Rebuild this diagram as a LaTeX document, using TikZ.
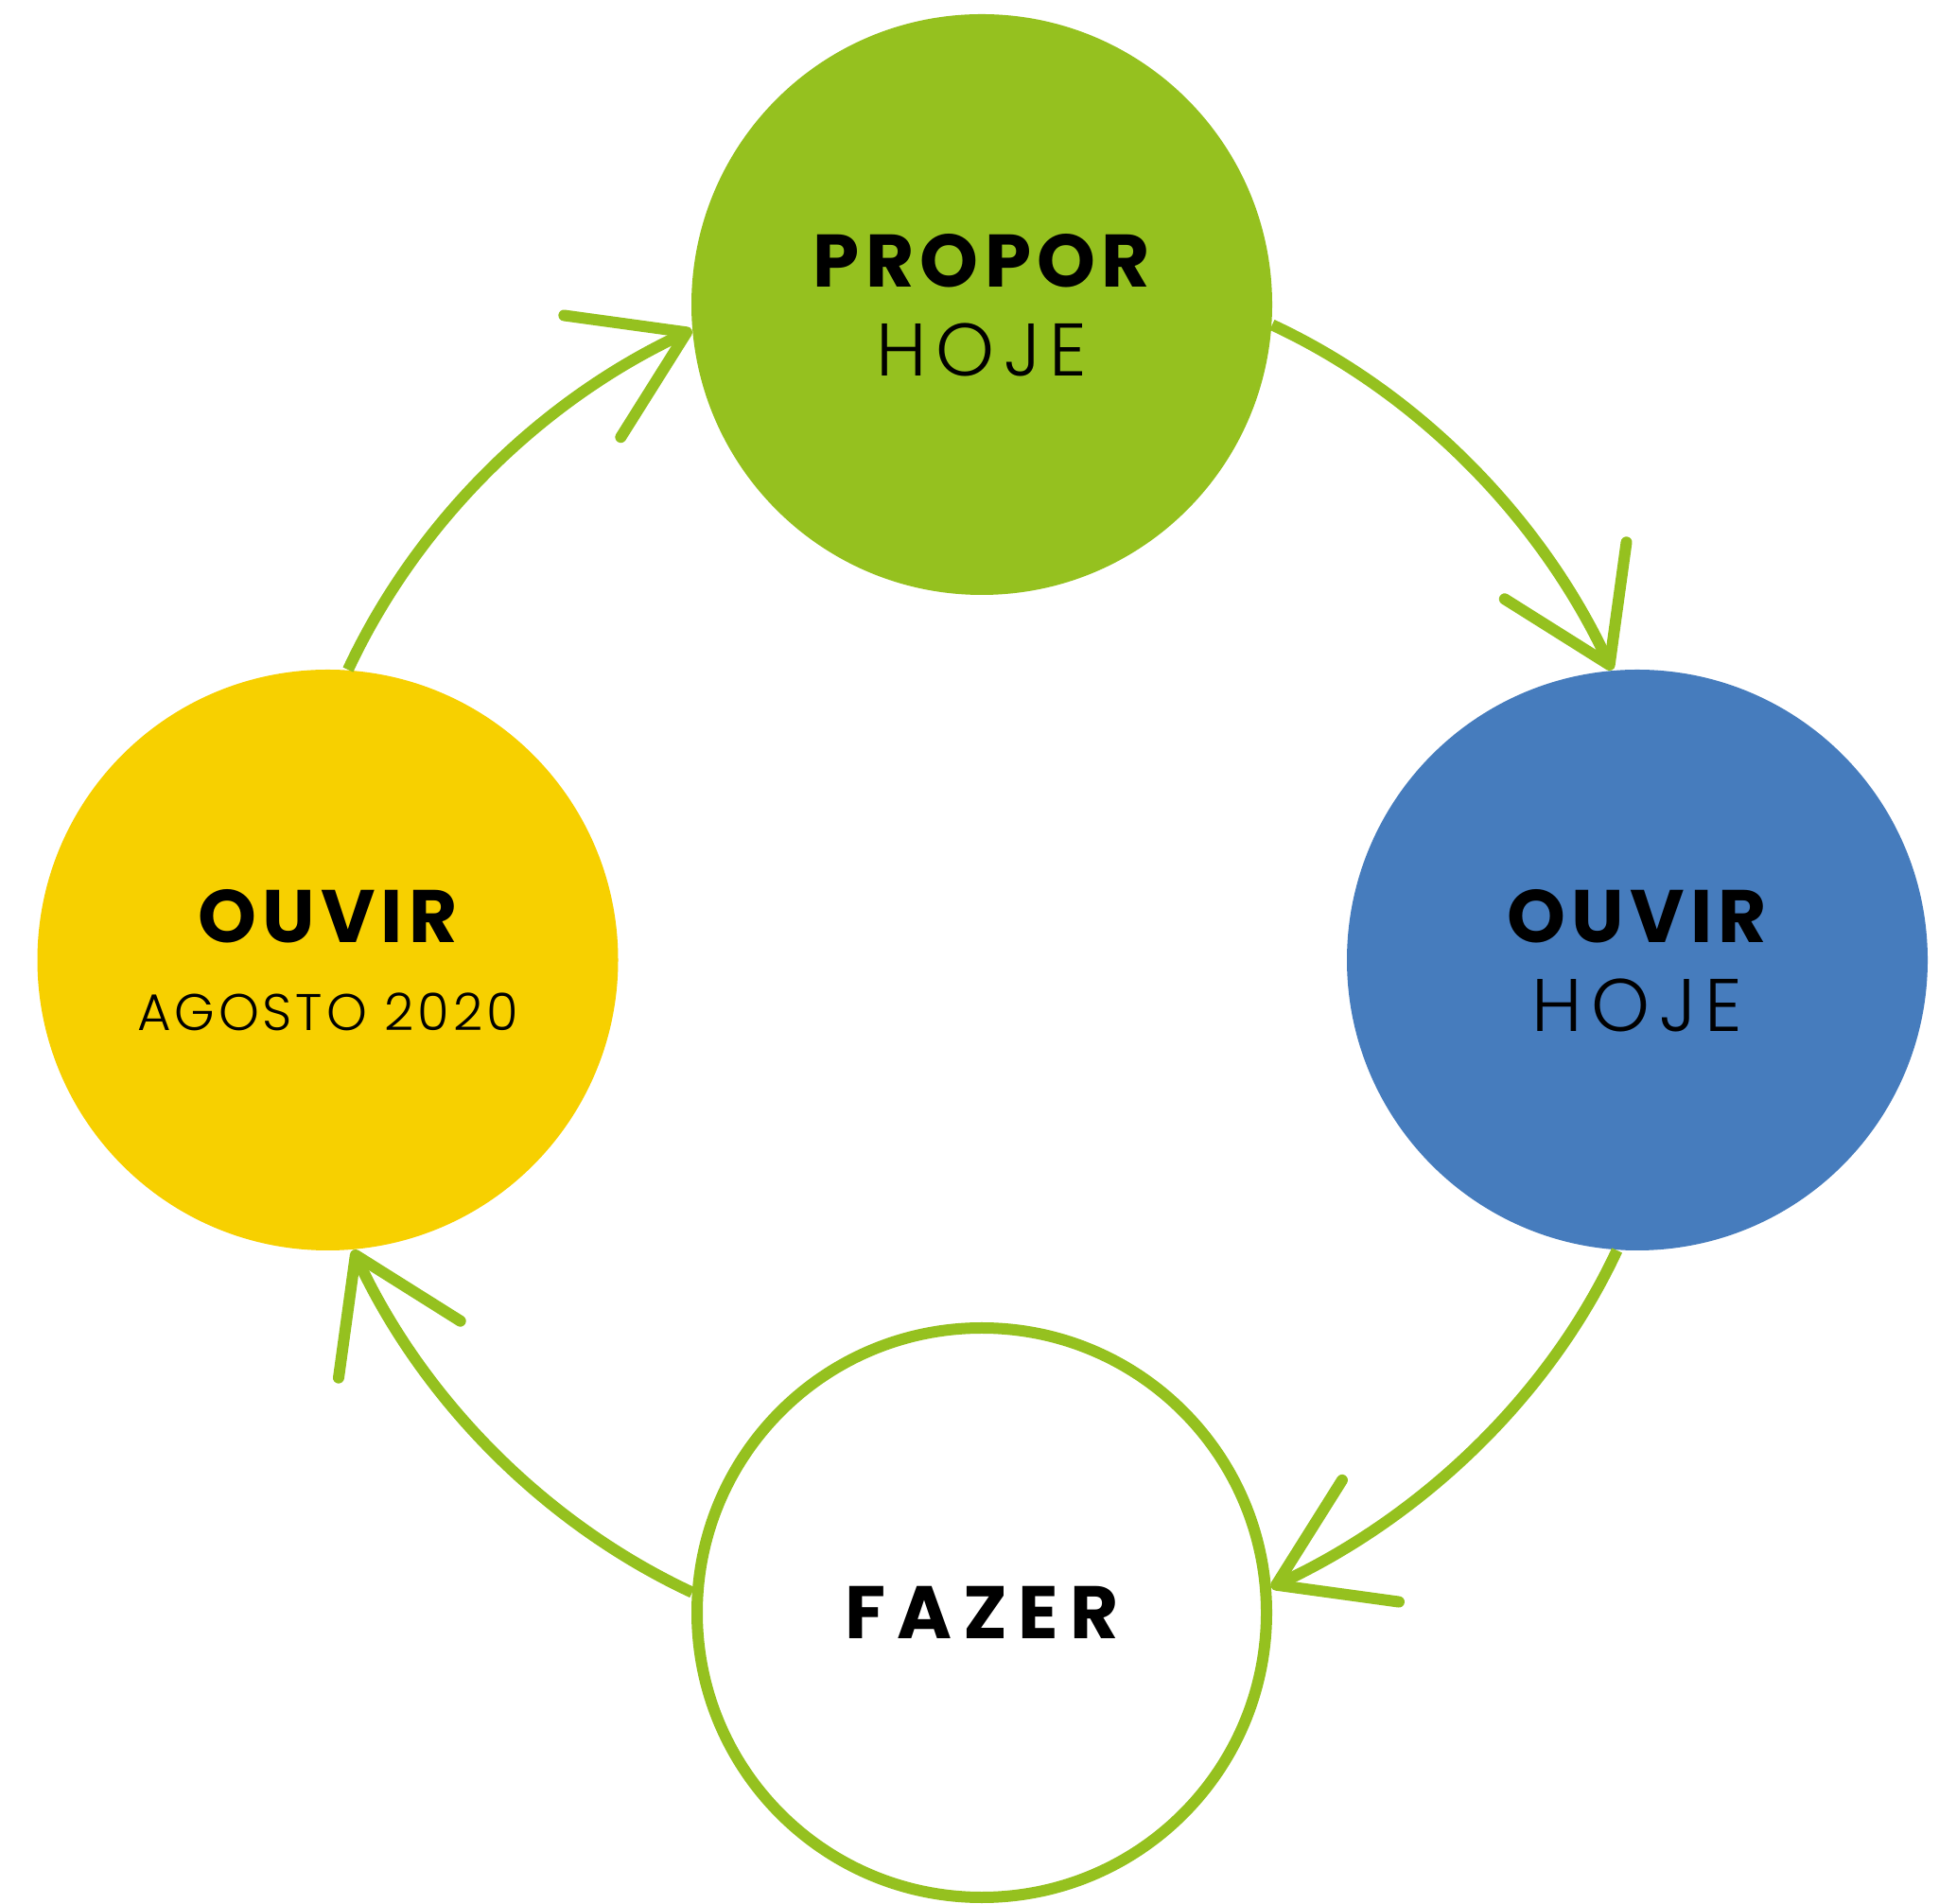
\documentclass[tikz,border=0pt]{standalone}
\usepackage{fontspec}
\usetikzlibrary{arrows.meta}
\newfontfamily\titlefont{Poppins}[LetterSpace=8]
\newfontfamily\widefont{Poppins}[LetterSpace=15]
\newfontfamily\lightfont{Poppins Light}[LetterSpace=12]
\newfontfamily\datefont{Poppins Light}[LetterSpace=7]
\definecolor{leaf}{HTML}{95C11F}
\definecolor{sky}{HTML}{467CBD}
\definecolor{sun}{HTML}{F7D000}
\begin{document}
\begin{tikzpicture}[>={Straight Barb[length=11mm,width=14.2mm,round]},x=1cm,y=1cm,
	stage/.style={circle,inner sep=0pt,minimum size=6.14cm},
	flow/.style={leaf,line width=0.12cm,looseness=0.87},
	title/.style={anchor=base,inner sep=0pt,font=\fontsize{22.4}{26}\titlefont\bfseries},
	widetitle/.style={title,font=\fontsize{22.4}{26}\widefont\bfseries},
	sub/.style={anchor=base,inner sep=0pt,font=\fontsize{22.4}{26}\lightfont},
	date/.style={anchor=base,inner sep=0pt,font=\fontsize{15.5}{18}\datefont}]
		\useasboundingbox (0,0) rectangle (20.5,20.12);
		% the four stages
		\node[stage,fill=leaf] (propor) at (10.38,16.90) {};
		\node[stage,fill=sky] (ouvirhoje) at (17.31,9.97) {};
		\node[stage,fill=sun] (ouviragosto) at (3.465,9.97) {};
		\node[stage,fill=white,draw=leaf,line width=0.12cm,minimum size=6.02cm] (fazer) at (10.38,3.07) {};
		\node[title] (tpropor) at ([yshift=1.85mm]propor.center) {PROPOR};
		\node[sub] (spropor) at ([yshift=-7.55mm]propor.center) {HOJE};
		\node[title] (touvirhoje) at ([yshift=1.85mm]ouvirhoje.center) {OUVIR};
		\node[sub] (souvirhoje) at ([yshift=-7.55mm]ouvirhoje.center) {HOJE};
		\node[title] (touviragosto) at ([yshift=1.85mm]ouviragosto.center) {OUVIR};
		\node[date] (souviragosto) at ([yshift=-7.5mm]ouviragosto.center) {AGOSTO 2020};
		\node[widetitle] (tfazer) at ([yshift=-2.75mm]fazer.center) {FAZER};
		% the cycle
		\draw[flow,->] (propor.-4) to[out=-25,in=115] (ouvirhoje.95);
		\draw[flow,->] (ouvirhoje.266) to[out=-115,in=25] (fazer.5);
		\draw[flow,->] (fazer.176) to[out=155,in=-65] (ouviragosto.275);
		\draw[flow,->] (ouviragosto.86) to[out=65,in=-155] (propor.185);
\end{tikzpicture}
\end{document}
